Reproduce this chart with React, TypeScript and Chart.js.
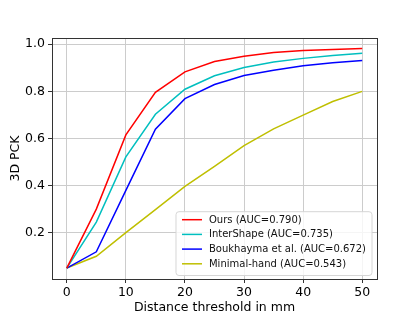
import React, { useEffect, useRef } from 'react';
import { Chart, registerables } from 'chart.js';

Chart.register(...registerables);

const thresholds = [0, 5, 10, 15, 20, 25, 30, 35, 40, 45, 50];
const oursValues = [0.05, 0.3, 0.615, 0.796, 0.883, 0.927, 0.949, 0.965, 0.973, 0.978, 0.982];
const interShapeValues = [0.05, 0.245, 0.522, 0.703, 0.809, 0.866, 0.901, 0.925, 0.94, 0.952, 0.962];
const boukhaymaValues = [0.05, 0.119, 0.38, 0.639, 0.769, 0.829, 0.867, 0.89, 0.909, 0.921, 0.931];
const minimalHandValues = [0.05, 0.1, 0.2, 0.298, 0.397, 0.482, 0.57, 0.641, 0.699, 0.757, 0.8];
const seriesLabels = [
  'Ours (AUC=0.790)',
  'InterShape (AUC=0.735)',
  'Boukhayma et al. (AUC=0.672)',
  'Minimal-hand (AUC=0.543)',
];
const seriesColors = ['#ff0000', '#00bfbf', '#0000ff', '#bfbf00'];
const xTicks = [0, 10, 20, 30, 40, 50];
const yTicks = [0.2, 0.4, 0.6, 0.8, 1.0];

const FONT = "'DejaVu Sans', sans-serif";

const framePlugin = {
  id: 'frameAndLegend',
  afterDraw(chart: any) {
    const { ctx, chartArea } = chart;
    const { left, right, top, bottom } = chartArea;
    ctx.save();
    // frame
    ctx.strokeStyle = '#333333';
    ctx.lineWidth = 1;
    ctx.strokeRect(Math.round(left) + 0.5, Math.round(top) + 0.5, Math.round(right - left), Math.round(bottom - top));
    // legend
    ctx.font = `10px ${FONT}`;
    const datasets = chart.data.datasets;
    let maxW = 0;
    datasets.forEach((d: any) => {
      maxW = Math.max(maxW, ctx.measureText(d.label).width);
    });
    const rowH = 14.7;
    const boxW = 33 + maxW + 6;
    const boxH = datasets.length * rowH + 5;
    const bx = right - 5 - boxW;
    const by = bottom - 3.5 - boxH;
    const r = 3;
    ctx.beginPath();
    ctx.moveTo(bx + r, by);
    ctx.lineTo(bx + boxW - r, by);
    ctx.quadraticCurveTo(bx + boxW, by, bx + boxW, by + r);
    ctx.lineTo(bx + boxW, by + boxH - r);
    ctx.quadraticCurveTo(bx + boxW, by + boxH, bx + boxW - r, by + boxH);
    ctx.lineTo(bx + r, by + boxH);
    ctx.quadraticCurveTo(bx, by + boxH, bx, by + boxH - r);
    ctx.lineTo(bx, by + r);
    ctx.quadraticCurveTo(bx, by, bx + r, by);
    ctx.closePath();
    ctx.fillStyle = 'rgba(255,255,255,0.8)';
    ctx.fill();
    ctx.strokeStyle = '#d6d6d6';
    ctx.lineWidth = 1;
    ctx.stroke();
    datasets.forEach((d: any, i: number) => {
      const cy = by + 8 + i * rowH;
      ctx.beginPath();
      ctx.strokeStyle = d.borderColor;
      ctx.lineWidth = 1.5;
      ctx.moveTo(bx + 6, cy);
      ctx.lineTo(bx + 26, cy);
      ctx.stroke();
      ctx.fillStyle = '#111';
      ctx.textBaseline = 'middle';
      ctx.textAlign = 'left';
      ctx.fillText(d.label, bx + 33, cy + 0.5);
    });
    ctx.restore();
  },
};

export default function App() {
  const canvasRef = useRef<HTMLCanvasElement | null>(null);

  useEffect(() => {
    if (!canvasRef.current) return;
    const series = [oursValues, interShapeValues, boukhaymaValues, minimalHandValues];
    const chart = new Chart(canvasRef.current, {
      type: 'line',
      data: {
        datasets: series.map((vals, i) => ({
          label: seriesLabels[i],
          data: thresholds.map((x, j) => ({ x, y: vals[j] })),
          borderColor: seriesColors[i],
          backgroundColor: seriesColors[i],
          borderWidth: 1.5,
          pointRadius: 0,
          tension: 0,
          fill: false,
        })),
      },
      options: {
        animation: false,
        responsive: false,
        devicePixelRatio: 1,
        layout: { padding: { top: 38, right: 42, left: 0, bottom: 0 } },
        plugins: {
          legend: { display: false },
          tooltip: { enabled: false },
        },
        scales: {
          x: {
            type: 'linear',
            min: -2.5,
            max: 52.5,
            afterBuildTicks: (scale: any) => {
              scale.ticks = xTicks.map((v) => ({ value: v }));
            },
            afterFit: (scale: any) => {
              scale.height = 35;
            },
            ticks: {
              font: { family: FONT, size: 12.5 },
              color: '#000',
              padding: 2,
              maxRotation: 0,
              callback: (v: any) => String(v),
            },
            grid: {
              color: '#cccccc',
              lineWidth: 1,
              tickLength: 4,
              tickColor: '#333333',
            },
            border: { display: false },
            title: {
              display: true,
              text: 'Distance threshold in mm',
              font: { family: FONT, size: 12.5 },
              color: '#000',
              padding: { top: 0, bottom: -1 },
            },
          },
          y: {
            type: 'linear',
            min: 0.0035,
            max: 1.0265,
            afterBuildTicks: (scale: any) => {
              scale.ticks = yTicks.map((v) => ({ value: v }));
            },
            afterFit: (scale: any) => {
              scale.width = 52;
            },
            ticks: {
              font: { family: FONT, size: 12.5 },
              color: '#000',
              padding: 3,
              callback: (v: any) => Number(v).toFixed(1),
            },
            grid: {
              color: '#cccccc',
              lineWidth: 1,
              tickLength: 4,
              tickColor: '#333333',
            },
            border: { display: false },
            title: {
              display: true,
              text: '3D PCK',
              font: { family: FONT, size: 12.5 },
              color: '#000',
              padding: { top: 8, bottom: 0 },
            },
          },
        },
      },
      plugins: [framePlugin],
    });
    return () => chart.destroy();
  }, []);

  return (
    <div style={{ position: 'absolute', left: 0, top: 0, width: 419, height: 314, background: '#fff' }}>
      <canvas ref={canvasRef} width={419} height={314} style={{ display: 'block' }} />
    </div>
  );
}
